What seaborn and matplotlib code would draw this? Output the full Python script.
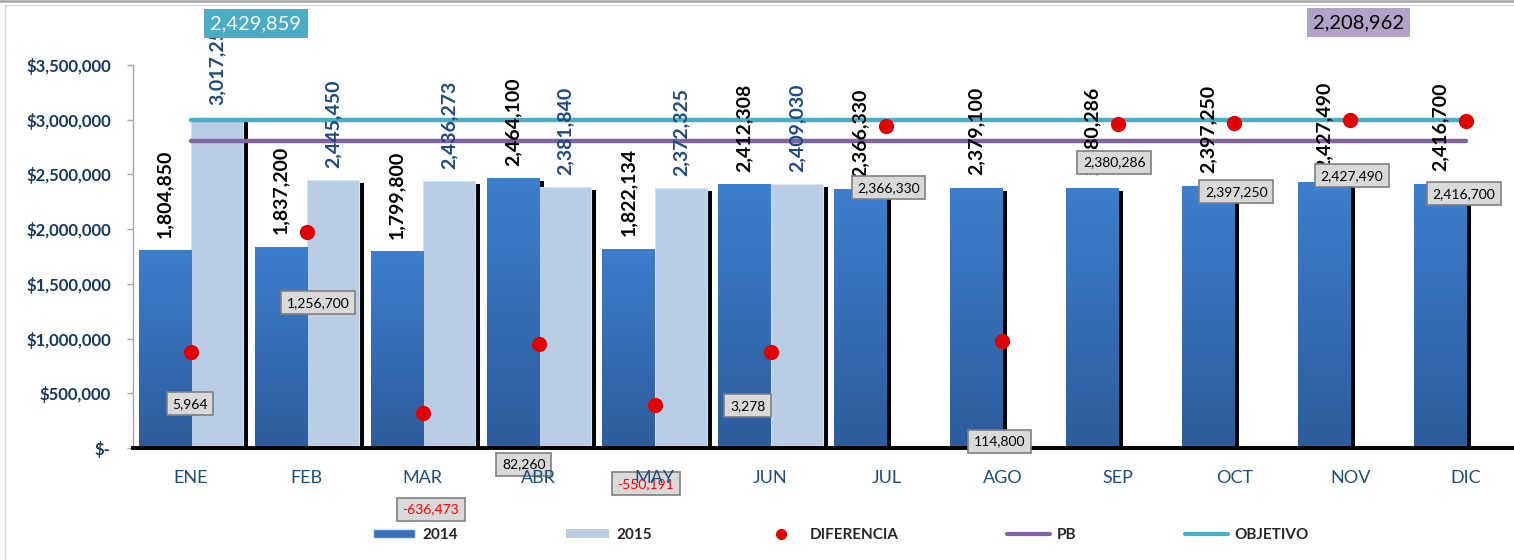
import numpy as np
import pandas as pd
import seaborn as sns
import matplotlib
matplotlib.use("Agg")
import matplotlib.pyplot as plt
from matplotlib import patheffects as pe
from matplotlib.colors import LinearSegmentedColormap
from matplotlib.lines import Line2D
from matplotlib.patches import Patch

# Data
meses = ['ENE', 'FEB', 'MAR', 'ABR', 'MAY', 'JUN', 'JUL', 'AGO', 'SEP', 'OCT', 'NOV', 'DIC']
ventas_2014 = [1804850, 1837200, 1799800, 2464100, 1822134, 2412308,
               2366330, 2379100, 2380286, 2397250, 2427490, 2416700]
ventas_2015 = [3017250, 2445450, 2436273, 2381840, 2372325, 2409030]
diferencia = [5964, 1256700, -636473, 82260, -550191, 3278,
              2366330, 114800, 2380286, 2397250, 2427490, 2416700]
pb = 2208962
objetivo = 2429859

# where Excel left each DIFERENCIA label, in pixels from its dot
label_offsets = [(-1, -52), (11, -71), (8, -96), (-15, -120), (-9, -79), (-23, -54),
                 (2, -62), (-3, -100), (-4, -38), (2, -69), (2, -56), (-2, -73)]

df = pd.concat([
    pd.DataFrame({'mes': meses, 'anio': '2014', 'valor': ventas_2014}),
    pd.DataFrame({'mes': meses[:len(ventas_2015)], 'anio': '2015', 'valor': ventas_2015}),
])

# Colors
c2014 = '#3570B8'
c2015 = '#B9CDE5'
c_pb = '#8064A2'
c_obj = '#4BACC6'
c_dif = '#E00000'
navy = '#17375E'

sns.set_style("white")
plt.rcParams['font.family'] = ['Lato', 'DejaVu Sans']

W, H = 1514, 560
fig = plt.figure(figsize=(W / 100, H / 100), dpi=100)
ax = fig.add_axes([133 / W, 112 / H, 1391 / W, 383 / H])

sns.barplot(data=df, x='mes', y='valor', hue='anio', order=meses, hue_order=['2014', '2015'],
            palette=[c2014, c2015], saturation=1, width=0.9, errorbar=None,
            edgecolor='#D5E2F2', linewidth=0.8, legend=False, ax=ax, zorder=1)
ax.set_xlim(-0.5, 11.5)
ax.set_ylim(0, 3500000)
ax.set_xlabel('')
ax.set_ylabel('')

# shadow on every bar, gradient on the 2014 bars
shadow = [pe.SimplePatchShadow(offset=(3.6, -2.2), shadow_rgbFace='black', alpha=1.0), pe.Normal()]
for cont in ax.containers:
    for bar in cont:
        bar.set_path_effects(shadow)

grad_cmap = LinearSegmentedColormap.from_list('g2014', ['#2D5C9C', '#3D7ECE'])
grad = np.linspace(0, 1, 256).reshape(-1, 1)
for bar in ax.containers[0]:
    x0, w, h = bar.get_x(), bar.get_width(), bar.get_height()
    im = ax.imshow(grad, extent=[x0, x0 + w, 0, h], origin='lower', cmap=grad_cmap,
                   aspect='auto', zorder=1.1)
    im.set_clip_path(bar)
ax.set_xlim(-0.5, 11.5)
ax.set_ylim(0, 3500000)

ax.bar_label(ax.containers[0], labels=[f'{v:,.0f}' for v in ventas_2014], rotation=90,
             padding=9, fontsize=14, fontweight='bold', color='black', zorder=3)
ax.bar_label(ax.containers[1], labels=[f'{v:,.0f}' for v in ventas_2015], rotation=90,
             padding=9, fontsize=14, fontweight='bold', color='#1F497D', zorder=3)

# secondary scale for DIFERENCIA, PB and OBJETIVO
ax2 = ax.twinx()
ax2.set_ylim(-1000000, 3000000)
ax2.set_axis_off()

x_pos = list(range(len(meses)))
sns.lineplot(x=x_pos, y=[pb] * len(meses), color=c_pb, linewidth=3.2, ax=ax,
             transform=ax2.transData, zorder=2, solid_capstyle='round')
sns.lineplot(x=x_pos, y=[objetivo] * len(meses), color=c_obj, linewidth=3.2, ax=ax,
             transform=ax2.transData, zorder=2, solid_capstyle='round')
sns.scatterplot(x=x_pos, y=diferencia, color=c_dif, s=120, linewidth=0, ax=ax,
                transform=ax2.transData, zorder=2.5)

for i, (v, (dx, dy)) in enumerate(zip(diferencia, label_offsets)):
    ax.annotate(f'{v:,.0f}', xy=(i, v), xycoords=ax2.transData, xytext=(dx, dy),
                textcoords='offset pixels', ha='center', va='center', fontsize=10,
                color='#FF0000' if v < 0 else 'black', zorder=4, annotation_clip=False,
                bbox=dict(boxstyle='square,pad=0.4', fc='#D9D9D9', ec='#7F7F7F', lw=1.2))

ax.annotate(f'{objetivo:,.0f}', xy=(0, objetivo), xycoords=ax2.transData, xytext=(65, 96),
            textcoords='offset pixels', ha='center', va='center', fontsize=14.5, color='white',
            zorder=4, annotation_clip=False,
            bbox=dict(boxstyle='square,pad=0.3', fc=c_obj, ec='none'))
ax.annotate(f'{pb:,.0f}', xy=(10, pb), xycoords=ax2.transData, xytext=(8, 118),
            textcoords='offset pixels', ha='center', va='center', fontsize=14.5, color='black',
            zorder=4, annotation_clip=False,
            bbox=dict(boxstyle='square,pad=0.3', fc='#B3A2C7', ec='none'))

# axes styling
yt = np.arange(0, 3500001, 500000)
ax.set_yticks(yt, labels=['$-' if t == 0 else f'${t:,.0f}' for t in yt],
              fontweight='bold')
ax.tick_params(axis='y', length=4, width=1, color='#A6A6A6', pad=12,
               labelsize=12, labelcolor=navy)
ax.set_xticks(x_pos, meses)
ax.tick_params(axis='x', which='major', length=0, pad=16, labelsize=13, labelcolor='#1F4E79')
ax.set_xticks(np.arange(-0.5, len(meses), 1), minor=True)
ax.tick_params(axis='x', which='minor', length=5, width=2.2, color='black', direction='out')
ax.xaxis.set_zorder(5)

for s in ['top', 'right']:
    ax.spines[s].set_visible(False)
ax.spines['left'].set_color('#A6A6A6')
ax.spines['left'].set_linewidth(1)
ax.spines['bottom'].set_color('black')
ax.spines['bottom'].set_linewidth(2.8)

# legend
handles = [
    Patch(facecolor=c2014, edgecolor='#D5E2F2'),
    Patch(facecolor=c2015, edgecolor='none'),
    Line2D([], [], marker='o', color=c_dif, ls='none', markersize=7),
    Line2D([], [], color=c_pb, lw=3, solid_capstyle='round'),
    Line2D([], [], color=c_obj, lw=3, solid_capstyle='round'),
]
fig.legend(handles, ['2014', '2015', 'DIFERENCIA', 'PB', 'OBJETIVO'], ncol=5,
           loc='center left', bbox_to_anchor=(365 / W, 25 / H), frameon=False,
           borderpad=0, columnspacing=7.1, handlelength=2.8, handleheight=0.55,
           handletextpad=0.45, prop={'weight': 'bold', 'size': 11})

# chart frame remnants
fig.add_artist(Line2D([0, 1], [1 - 1 / H, 1 - 1 / H], color='#A6A6A6', lw=1.8,
                      transform=fig.transFigure))
fig.add_artist(Line2D([4.5 / W, 1], [1 - 5 / H, 1 - 5 / H], color='#D9D9D9', lw=1,
                      transform=fig.transFigure))
fig.add_artist(Line2D([4.5 / W, 4.5 / W], [0, 1 - 5 / H], color='#D9D9D9', lw=1,
                      transform=fig.transFigure))

fig.savefig('out.png', dpi=100)
